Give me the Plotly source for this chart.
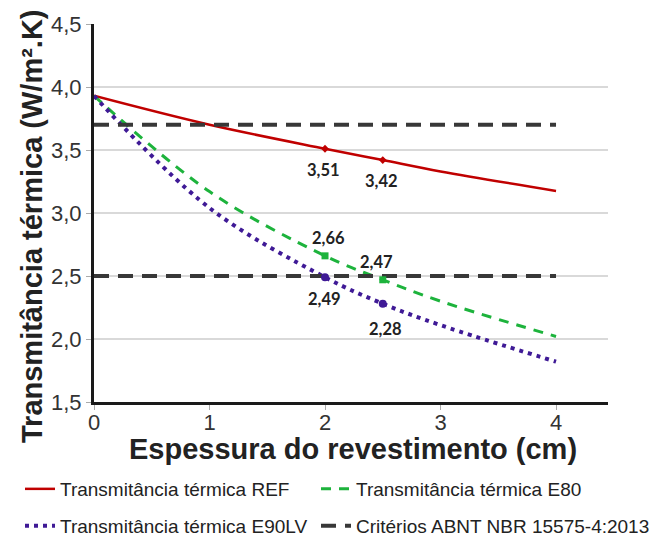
import plotly.graph_objects as go

# Coating thickness (cm) and thermal transmittance (W/m².K) per wall system
espessura = [0, 1, 2, 2.5, 3, 4]
u_ref = [3.93, 3.70, 3.51, 3.42, 3.33, 3.175]
u_e80 = [3.93, 3.17, 2.66, 2.47, 2.30, 2.02]
u_e90lv = [3.93, 3.04, 2.49, 2.28, 2.11, 1.82]

# Thicknesses whose values are highlighted with markers and labels
destaque = [2, 2.5]

# ABNT NBR 15575-4:2013 limits
criterios = [3.7, 2.5]
criterio_x = [0, 4]

x_ticks = [0, 1, 2, 3, 4]
y_ticks = [1.5, 2.0, 2.5, 3.0, 3.5, 4.0, 4.5]

COR_REF = "#c00000"
COR_E80 = "#1db33c"
COR_E90 = "#3f1a96"
COR_CRIT = "#383838"

W, H = 649, 536
ML, MR, MT, MB = 94, 41, 24, 134
pw, ph = W - ML - MR, H - MT - MB


def px_x(p):
    """Horizontal pixel -> paper coordinate."""
    return (p - ML) / pw


def px_y(p):
    """Vertical pixel (from top) -> paper coordinate."""
    return (H - MB - p) / ph


fig = go.Figure()

fig.add_trace(go.Scatter(
    x=espessura, y=u_ref, mode="lines", name="Transmitância térmica REF",
    line=dict(color=COR_REF, width=2.5, shape="spline", smoothing=1.0),
    legend="legend",
))
fig.add_trace(go.Scatter(
    x=espessura, y=u_e80, mode="lines", name="Transmitância térmica E80",
    line=dict(color=COR_E80, width=3, dash="10px,8px", shape="spline", smoothing=1.0),
    legend="legend2",
))
fig.add_trace(go.Scatter(
    x=espessura, y=u_e90lv, mode="lines", name="Transmitância térmica E90LV",
    line=dict(color=COR_E90, width=4, dash="4px,5px", shape="spline", smoothing=1.0),
    legend="legend3",
))

crit_x, crit_y = [], []
for c in criterios:
    crit_x += criterio_x + [None]
    crit_y += [c, c, None]
fig.add_trace(go.Scatter(
    x=crit_x, y=crit_y, mode="lines", name="Critérios ABNT NBR 15575-4:2013",
    line=dict(color=COR_CRIT, width=4, dash="15px,9px"),
    legend="legend4",
))

# Highlighted points
def pontos(serie):
    return [serie[espessura.index(v)] for v in destaque]

fig.add_trace(go.Scatter(x=destaque, y=pontos(u_ref), mode="markers", showlegend=False,
                         marker=dict(symbol="diamond", size=6, color=COR_REF)))
fig.add_trace(go.Scatter(x=destaque, y=pontos(u_e80), mode="markers", showlegend=False,
                         marker=dict(symbol="square", size=7, color=COR_E80)))
fig.add_trace(go.Scatter(x=destaque, y=pontos(u_e90lv), mode="markers", showlegend=False,
                         marker=dict(symbol="circle", size=8, color=COR_E90)))

# Value labels (x/y shifts in px)
desloc = {
    "ref": [(-2, -21), (-1, -21)],
    "e80": [(3, 18), (-6, 18)],
    "e90": [(-1, -22), (3, -25)],
}
for chave, serie in (("ref", u_ref), ("e80", u_e80), ("e90", u_e90lv)):
    for (xv, yv), (dx, dy) in zip(zip(destaque, pontos(serie)), desloc[chave]):
        fig.add_annotation(
            x=xv, y=yv, text=f"{yv:.2f}".replace(".", ","), showarrow=False,
            xshift=dx, yshift=dy,
            font=dict(family="Lato", size=16.5, color="#222222", weight="bold"),
        )

# Axis titles
titulo_font = dict(family="Liberation Sans", size=29, color="#222222", weight="bold")
fig.add_annotation(
    xref="paper", yref="paper", x=px_x(32), y=px_y(226),
    xanchor="center", yanchor="middle",
    text="Transmitância térmica (W/m².K)", showarrow=False, textangle=-90,
    font=titulo_font,
)
fig.add_annotation(
    xref="paper", yref="paper", x=px_x(353), y=px_y(449),
    xanchor="center", yanchor="middle",
    text="Espessura do revestimento (cm)", showarrow=False,
    font=titulo_font,
)

# One legend per entry, laid out in two rows of two
leg_font = dict(family="Liberation Sans", size=19, color="#222222")
leg_pos = {
    "legend": (20, 489), "legend2": (316, 489),
    "legend3": (20, 526), "legend4": (316, 526),
}
legendas = {
    nome: dict(
        orientation="h", xref="paper", yref="paper",
        x=px_x(px), y=px_y(py), xanchor="left", yanchor="middle",
        font=leg_font, bgcolor="rgba(0,0,0,0)",
    )
    for nome, (px, py) in leg_pos.items()
}

fig.update_layout(
    width=W, height=H,
    margin=dict(l=ML, r=MR, t=MT, b=MB, autoexpand=False),
    paper_bgcolor="white", plot_bgcolor="white",
    separators=",.",
    font=dict(family="Liberation Sans", color="#333333"),
    xaxis=dict(
        range=[0, 4.45], tickvals=x_ticks, ticktext=[str(v) for v in x_ticks],
        showgrid=False, zeroline=False,
        showline=True, linecolor="#1a1a1a", linewidth=3,
        ticks="outside", ticklen=5, tickcolor="#aaaaaa", tickwidth=1,
        ticklabelstandoff=-6,
        tickfont=dict(size=22, color="#333333"),
    ),
    yaxis=dict(
        range=[1.5, 4.5], tickvals=y_ticks, tickformat=".1f",
        showgrid=True, gridcolor="#d9d9d9", gridwidth=1.5, zeroline=False,
        showline=True, linecolor="#1a1a1a", linewidth=3,
        ticks="outside", ticklen=5, tickcolor="#aaaaaa", tickwidth=1,
        tickfont=dict(size=22, color="#333333"),
    ),
    **legendas,
)

fig.write_html("out.html")
